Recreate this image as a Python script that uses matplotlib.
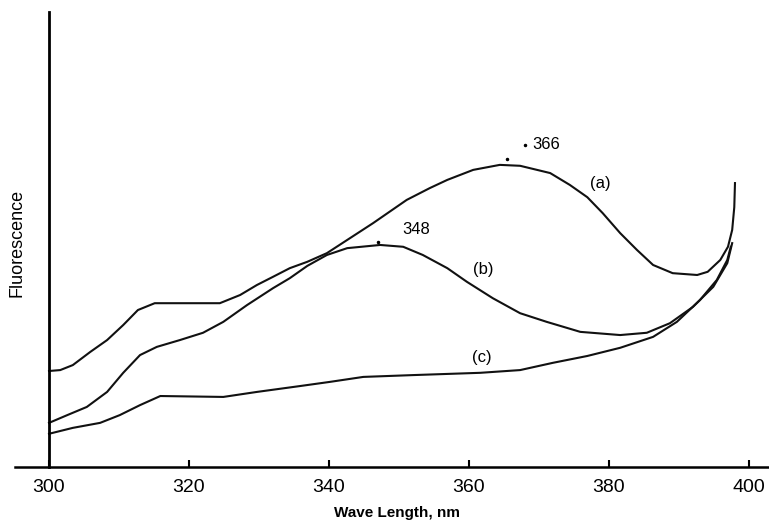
import matplotlib.pyplot as plt

# curve (a)
wl_a = [300.0, 301.6, 303.4, 305.9, 308.3, 310.6, 312.7, 315.1, 324.4, 327.3, 329.7,
        332.0, 334.4, 336.9, 339.7, 342.6, 346.3, 351.1, 354.4, 356.9, 360.6, 364.4,
        367.3, 371.6, 374.4, 376.9, 379.1, 381.6, 384.0, 386.3, 389.1, 392.6, 394.1,
        395.9, 397.0, 397.6, 397.9, 398.0]
fl_a = [21.1, 21.3, 22.4, 25.3, 27.9, 31.2, 34.5, 36.0, 36.0, 37.8, 40.0,
        41.8, 43.7, 45.1, 47.0, 49.9, 53.6, 58.7, 61.3, 63.1, 65.3, 66.4,
        66.2, 64.6, 62.0, 59.3, 55.8, 51.4, 47.7, 44.4, 42.6, 42.2, 42.9,
        45.5, 48.4, 52.1, 57.1, 62.4]

# curve (b)
wl_b = [300.0, 302.6, 305.4, 308.3, 310.6, 313.0, 315.4, 318.7, 322.0, 324.9, 328.3,
        332.0, 334.4, 336.9, 339.7, 342.6, 347.3, 350.6, 353.4, 356.9, 359.7, 363.4,
        367.3, 371.1, 375.9, 381.6, 385.4, 388.7, 392.0, 394.9, 396.9, 397.6]
fl_b = [9.7, 11.4, 13.2, 16.5, 20.7, 24.6, 26.4, 27.9, 29.5, 31.9, 35.6,
        39.3, 41.5, 44.2, 46.6, 48.1, 48.8, 48.4, 46.6, 43.7, 40.7, 37.1,
        33.8, 31.9, 29.7, 29.0, 29.5, 31.6, 35.2, 39.6, 44.8, 49.2]

# curve (c)
wl_c = [300.0, 303.4, 307.3, 310.1, 313.0, 315.9, 324.9, 329.7, 335.9, 340.1, 344.9,
        352.0, 361.6, 367.3, 372.0, 376.9, 381.6, 386.3, 389.7, 393.0, 395.4, 396.9,
        397.4]
fl_c = [7.3, 8.6, 9.7, 11.4, 13.6, 15.6, 15.4, 16.5, 17.8, 18.7, 19.8,
        20.2, 20.7, 21.3, 22.9, 24.4, 26.2, 28.6, 31.9, 36.7, 41.1, 45.5,
        48.4]

peaks = [366, 348]
ticks = [300, 320, 340, 360, 380, 400]

plt.rcParams['font.family'] = ['Liberation Sans', 'DejaVu Sans']

fig = plt.figure(figsize=(7.69, 5.24), dpi=100)
ax = fig.add_axes([15 / 769, 57 / 524, 754 / 769, 455 / 524])

ax.plot(wl_a, fl_a, color='#111111', lw=1.5)
ax.plot(wl_b, fl_b, color='#111111', lw=1.5)
ax.plot(wl_c, fl_c, color='#111111', lw=1.5)

ax.set_xlim(295.14, 402.86)
ax.set_ylim(0, 100)

ax.spines['top'].set_visible(False)
ax.spines['right'].set_visible(False)
ax.spines['left'].set_position(('data', 300))
ax.spines['left'].set_linewidth(2)
ax.spines['bottom'].set_linewidth(1.8)

ax.set_xticks(ticks)
ax.set_xticklabels([str(t) for t in ticks])
ax.set_yticks([])
ax.tick_params(axis='x', direction='in', length=5, width=1.5, pad=9, labelsize=14)

# labels on the curves
ax.text(378.7, 62.4, '(a)', fontsize=12, ha='center', va='center')
ax.text(362.0, 43.3, '(b)', fontsize=12, ha='center', va='center')
ax.text(361.9, 24.0, '(c)', fontsize=12, ha='center', va='center')
ax.text(peaks[0] + 3.0, 70.8, str(peaks[0]), fontsize=12, ha='left', va='center')
ax.text(peaks[1] + 2.5, 52.1, str(peaks[1]), fontsize=12, ha='left', va='center')
ax.plot([peaks[0] + 2.0, peaks[0] - 0.5, peaks[1] - 1], [70.8, 67.6, 49.5], 'k.', ms=3)

fig.text(397 / 769, 0.008, 'Wave Length, nm', fontsize=11, fontweight='bold',
         ha='center', va='bottom')
fig.text(17 / 769, 0.536, 'Fluorescence', fontsize=13, rotation=90,
         ha='center', va='center')

fig.savefig('out.png', dpi=100)
